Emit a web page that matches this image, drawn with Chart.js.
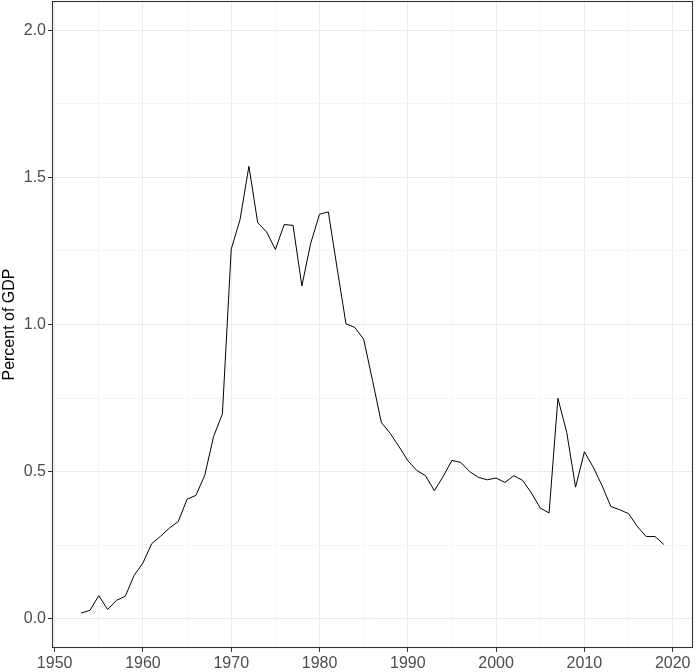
<!DOCTYPE html>
<html>
<head>
<meta charset="utf-8">
<script src="https://cdn.jsdelivr.net/npm/chart.js@4"></script>
<style>
  html, body { margin: 0; padding: 0; background: #fff; }
  #wrap { width: 697px; height: 672px; }
</style>
</head>
<body>
<div id="wrap"><canvas id="chart" width="697" height="672"></canvas></div>
<script>
// data
const years = []
for (let y = 1953; y <= 2019; y++) years.push(y)

const values = [
  0.019, 0.028, 0.078, 0.031, 0.062, 0.076, 0.147,           // 1953-1959
  0.189, 0.255, 0.280, 0.308, 0.330, 0.406, 0.419, 0.487, 0.619, 0.696, // 1960s
  1.256, 1.357, 1.538, 1.346, 1.315, 1.255, 1.340, 1.337, 1.131, 1.276, // 1970s
  1.375, 1.383, 1.190, 1.002, 0.990, 0.950, 0.810, 0.667, 0.630, 0.585, // 1980s
  0.537, 0.504, 0.486, 0.435, 0.483, 0.538, 0.531, 0.500, 0.480, 0.472, // 1990s
  0.478, 0.463, 0.486, 0.470, 0.427, 0.376, 0.359, 0.749, 0.633, 0.447, // 2000s
  0.567, 0.515, 0.452, 0.381, 0.370, 0.357, 0.313, 0.279, 0.279, 0.252  // 2010s
]

const xTicks = [1950, 1955, 1960, 1965, 1970, 1975, 1980, 1985, 1990, 1995, 2000, 2005, 2010, 2015, 2020]
const yTicks = [0, 0.25, 0.5, 0.75, 1.0, 1.25, 1.5, 1.75, 2.0]
const xLabelled = [1950, 1960, 1970, 1980, 1990, 2000, 2010, 2020]
const yLabelled = [0, 0.5, 1.0, 1.5, 2.0]

const isMajorX = v => xLabelled.includes(v)
const isMajorY = v => yLabelled.some(t => Math.abs(t - v) < 1e-9)

// panel border
const borderPlugin = {
  id: 'panelBorder',
  afterDraw(chart) {
    const a = chart.chartArea
    const c = chart.ctx
    c.save()
    c.strokeStyle = '#333333'
    c.lineWidth = 1.1
    c.strokeRect(a.left + 0.5, a.top + 0.5, a.right - a.left - 1, a.bottom - a.top - 1)
    c.restore()
  }
}

const font = { family: '"Liberation Sans", Arial, sans-serif', size: 16 }

new Chart(document.getElementById('chart'), {
  type: 'line',
  data: {
    datasets: [{
      data: years.map((y, i) => ({ x: y, y: values[i] })),
      borderColor: '#000000',
      borderWidth: 1,
      pointRadius: 0,
      tension: 0,
      fill: false
    }]
  },
  options: {
    responsive: false,
    animation: false,
    layout: { padding: { top: 1, right: 4, left: 0, bottom: 0 } },
    plugins: { legend: { display: false }, tooltip: { enabled: false } },
    scales: {
      x: {
        type: 'linear',
        min: 1949.7,
        max: 2022.3,
        afterBuildTicks: s => { s.ticks = xTicks.map(v => ({ value: v })) },
        afterFit: s => { s.height = 24; s.paddingLeft = 0; s.paddingRight = 0 },
        border: { display: false },
        grid: {
          color: c => isMajorX(c.tick.value) ? '#EBEBEB' : '#F5F5F5',
          tickColor: c => isMajorX(c.tick.value) ? '#333333' : 'rgba(0,0,0,0)',
          tickLength: 4
        },
        ticks: {
          autoSkip: false,
          maxRotation: 0,
          padding: 2,
          color: '#4D4D4D',
          font: font,
          callback: v => isMajorX(v) ? String(v) : ''
        }
      },
      y: {
        type: 'linear',
        min: -0.1,
        max: 2.1,
        afterBuildTicks: s => { s.ticks = yTicks.map(v => ({ value: v })) },
        afterFit: s => { s.width = 52; s.paddingTop = 0; s.paddingBottom = 0 },
        border: { display: false },
        grid: {
          color: c => isMajorY(c.tick.value) ? '#EBEBEB' : '#F5F5F5',
          tickColor: c => isMajorY(c.tick.value) ? '#333333' : 'rgba(0,0,0,0)',
          tickLength: 4
        },
        ticks: {
          autoSkip: false,
          padding: 2,
          color: '#4D4D4D',
          font: font,
          callback: v => isMajorY(v) ? v.toFixed(1) : ''
        },
        title: {
          display: true,
          text: 'Percent of GDP',
          color: '#000000',
          font: font,
          padding: { top: 0, bottom: 0 }
        }
      }
    }
  },
  plugins: [borderPlugin]
})
</script>
</body>
</html>
